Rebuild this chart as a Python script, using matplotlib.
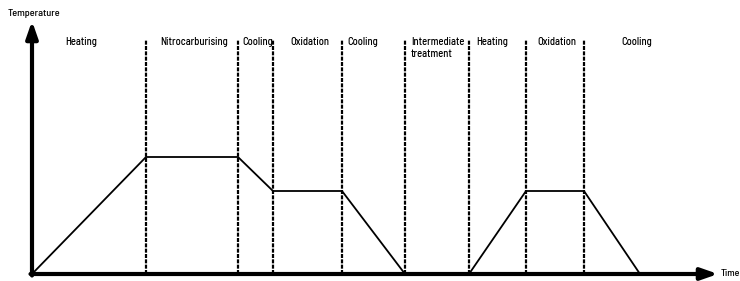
import matplotlib
matplotlib.use("Agg")
import matplotlib.pyplot as plt

# Data (arbitrary units: time, temperature)
time_pts = [0, 114, 206, 241, 310, 373, 437, 494, 552, 608]
temp_pts = [0, 117, 117, 83, 83, 0, 0, 83, 83, 0]
boundaries = [114, 206, 241, 310, 373, 437, 494, 552]
phase_labels = ["Heating", "Nitrocarburising", "Cooling", "Oxidation", "Cooling",
                "Intermediate\ntreatment", "Heating", "Oxidation", "Cooling"]
label_x = [33, 128, 210, 258, 315, 379, 444, 505, 589]

plt.rcParams['font.family'] = ['Barlow Semi Condensed', 'Roboto Condensed', 'DejaVu Sans']

fig = plt.figure(figsize=(7.4, 2.81), dpi=100)
ax = fig.add_axes([0, 0, 1, 1])
ax.set_xlim(-32, 708)
ax.set_ylim(-7, 274)
ax.axis('off')

# phase boundaries
for b in boundaries:
    ax.plot([b, b], [0, 234], color='black', lw=1.6, linestyle=(0, (1.8, 0.6)))

# temperature profile
ax.plot(time_pts, temp_pts, color='black', lw=1.3, solid_joinstyle='miter')

# axes arrows
ax.annotate('', xy=(0, 253), xytext=(0, -1.5),
            arrowprops=dict(arrowstyle='-|>,head_width=0.35,head_length=1.0',
                            lw=3, color='black', shrinkA=0, shrinkB=0))
ax.annotate('', xy=(686, 0), xytext=(-1.5, 0),
            arrowprops=dict(arrowstyle='-|>,head_width=0.35,head_length=1.0',
                            lw=3, color='black', shrinkA=0, shrinkB=0))

ax.text(-24, 260, "Temperature", fontsize=7.4, va='center', ha='left', fontweight='medium')
ax.text(689, 0, "Time", fontsize=7.2, va='center', ha='left', fontweight='medium')

for lx, lab in zip(label_x, phase_labels):
    ax.text(lx, 237, lab, fontsize=7.6, va='top', ha='left', linespacing=1.25,
            fontweight='medium')

fig.savefig("out.png", dpi=100)
